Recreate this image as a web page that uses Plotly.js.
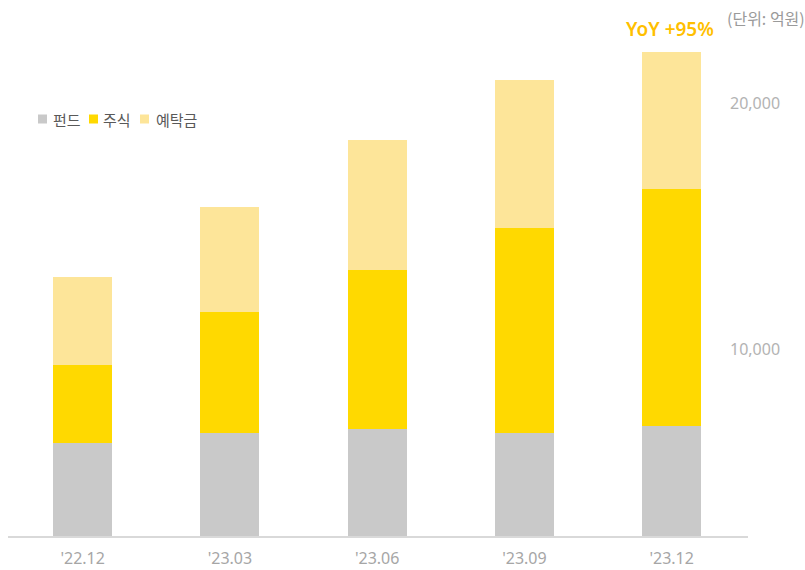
<!DOCTYPE html>
<html>
<head>
<meta charset="utf-8">
<script src="https://cdn.plot.ly/plotly-3.0.1.min.js"></script>
<style>
  html, body { margin: 0; padding: 0; background: #ffffff; }
  #chart { width: 805px; height: 570px; }
</style>
</head>
<body>
<div id="chart"></div>
<script>
// ---- data (unit: 억원) ----
const categories = ["'22.12", "'23.03", "'23.06", "'23.09", "'23.12"];
const fund     = [6180, 6590, 6740, 6570, 6880];   // 펀드
const stock    = [3170, 4930, 6480, 8350, 9620];   // 주식
const deposit  = [3580, 4260, 5290, 6020, 5570];   // 예탁금
const seriesNames = ['펀드', '주식', '예탁금'];
const yTickVals = [10000, 20000];
const yTickText = ['10,000', '20,000'];
const annoYoY = 'YoY +95%';
const annoUnit = '(단위: 억원)';

// ---- styling / layout ----
const colors = ['#C9C9C9', '#FFD900', '#FDE599'];
const W = 805, H = 570;
const M = { l: 9, r: 76, t: 30, b: 33 };
const PW = W - M.l - M.r, PH = H - M.t - M.b;
const px = x => (x - M.l) / PW;        // page px -> paper x
const py = y => (H - M.b - y) / PH;    // page px -> paper y

const KR = '"Noto Sans CJK KR", "Noto Sans", sans-serif';

const traces = [fund, stock, deposit].map((vals, i) => ({
  type: 'bar',
  x: categories,
  y: vals,
  name: seriesNames[i],
  marker: { color: colors[i], line: { width: 0 } },
  width: 0.4,
  hoverinfo: 'x+y+name',
  showlegend: false
}));

// manual legend
const legendItems = [
  { sq: 38, tx: 53 },
  { sq: 89, tx: 103 },
  { sq: 140, tx: 156 }
];
const shapes = [
  { type: 'line', xref: 'paper', yref: 'paper', x0: px(8), x1: px(748), y0: 0, y1: 0,
    line: { color: '#D9D9D9', width: 2 } }
];
const annotations = [
  { xref: 'paper', yref: 'paper', x: px(725), y: py(18), xanchor: 'left', yanchor: 'middle',
    text: annoUnit, showarrow: false, font: { family: KR, size: 16, color: '#9a9a9a' } },
  { xref: 'paper', yref: 'paper', x: px(670), y: py(29), xanchor: 'center', yanchor: 'middle',
    text: annoYoY, showarrow: false, font: { family: '"Noto Sans", sans-serif', size: 19, color: '#FFBF00', weight: 600 } }
];
legendItems.forEach((it, i) => {
  shapes.push({ type: 'rect', xref: 'paper', yref: 'paper',
    x0: px(it.sq), x1: px(it.sq + 9), y0: py(123.5), y1: py(114.5),
    fillcolor: colors[i], line: { width: 0 } });
  annotations.push({ xref: 'paper', yref: 'paper', x: px(it.tx), y: py(119.5),
    xanchor: 'left', yanchor: 'middle', text: seriesNames[i], showarrow: false,
    font: { family: KR, size: 15, color: '#595959' }, xshift: -2 });
});

const layout = {
  width: W, height: H,
  margin: M,
  paper_bgcolor: '#ffffff', plot_bgcolor: '#ffffff',
  barmode: 'stack',
  showlegend: false,
  xaxis: {
    type: 'category',
    range: [-0.5, -0.5 + PW / 147.25],
    showgrid: false, zeroline: false, showline: false, ticks: '',
    tickfont: { family: '"Liberation Sans Narrow", "Noto Sans", sans-serif', size: 16, color: '#A6A6A6' },
    ticklabelstandoff: 10
  },
  yaxis: {
    side: 'right',
    range: [2358, 22967],
    tickvals: yTickVals, ticktext: yTickText,
    showgrid: false, zeroline: false, showline: false, ticks: '',
    tickfont: { family: '"Noto Sans", sans-serif', size: 16, color: '#B3B3B3' }
  },
  shapes: shapes,
  annotations: annotations,
  font: { family: KR }
};

Plotly.newPlot('chart', traces, layout, { displayModeBar: false, staticPlot: true });
</script>
</body>
</html>
